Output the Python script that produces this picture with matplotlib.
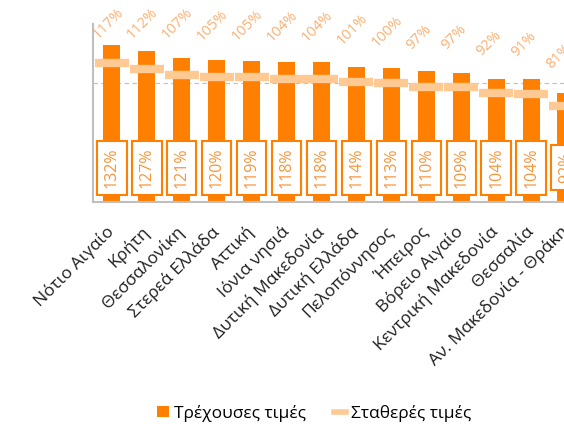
#!/usr/bin/env python3
"""Regional index chart: current vs constant prices (cropped view)."""
import matplotlib

matplotlib.use("Agg")

import matplotlib.pyplot as plt  # noqa: E402
import matplotlib.transforms as mtransforms  # noqa: E402
import numpy as np  # noqa: E402
from matplotlib.lines import Line2D  # noqa: E402
from matplotlib.patches import Patch  # noqa: E402

plt.rcParams["font.family"] = ["Open Sans", "DejaVu Sans"]

REGIONS = [
    "Νότιο Αιγαίο", "Κρήτη", "Θεσσαλονίκη", "Στερεά Ελλάδα", "Αττική",
    "Ιόνια νησιά", "Δυτική Μακεδονία", "Δυτική Ελλάδα", "Πελοπόννησος",
    "Ήπειρος", "Βόρειο Αιγαίο", "Κεντρική Μακεδονία", "Θεσσαλία",
    "Αν. Μακεδονία - Θράκη",
]
CURRENT = [132, 127, 121, 120, 119, 118, 118, 114, 113, 110, 109, 104, 104, 92]
CONSTANT = [117, 112, 107, 105, 105, 104, 104, 101, 100, 97, 97, 92, 91, 81]

ORANGE = "#FF8000"
BOX_TEXT = "#F7963A"
TOP_TEXT = "#F9B072"
PEACH = "#FFC994"
SPINE = "#BFBFBF"


def main() -> int:
    fig = plt.figure(figsize=(5.64, 4.24), dpi=100)
    # axes deliberately runs past the right edge: the reference is cropped there
    ax = fig.add_axes([93 / 564, 222 / 424, 494 / 564, 178 / 424])
    x = np.arange(len(REGIONS))

    ax.bar(x, CURRENT, width=0.49, color=ORANGE, zorder=2)
    ax.plot(x, CONSTANT, linestyle="none", marker="_", markersize=24,
            markeredgewidth=6, color=PEACH, zorder=3)

    for xi, cur, const in zip(x, CURRENT, CONSTANT):
        ax.text(xi, 29, f"{cur}%", rotation=90, ha="center", va="center",
                fontsize=11.5, color=BOX_TEXT, zorder=4,
                bbox=dict(boxstyle="square,pad=0.42", facecolor="white",
                          edgecolor=ORANGE, linewidth=1.5))
        ax.text(xi - 0.42, min(const + 31, 137), f"{const}%", rotation=45,
                rotation_mode="anchor", ha="left", va="baseline",
                fontsize=10.5, color=TOP_TEXT, clip_on=False)

    ax.set_xlim(-0.54, 13.6)
    ax.set_ylim(0, 150)
    ax.set_yticks([100])
    ax.set_yticklabels([])
    ax.tick_params(axis="y", length=0)
    ax.tick_params(axis="x", length=0, pad=15.5)
    ax.yaxis.grid(True, linestyle=(0, (4, 3)), color="#BFBFBF", linewidth=0.8, zorder=0)
    ax.set_axisbelow(True)
    ax.set_xticks(x)
    ax.set_xticklabels(REGIONS, rotation=45, ha="right", va="top",
                       fontsize=12.5, color="#1f1f1f")
    shift = mtransforms.ScaledTranslation(6 / 100, 0, fig.dpi_scale_trans)
    for label in ax.get_xticklabels():
        label.set_transform(label.get_transform() + shift)
    for side in ("top", "right"):
        ax.spines[side].set_visible(False)
    for side in ("left", "bottom"):
        ax.spines[side].set_color(SPINE)
        ax.spines[side].set_linewidth(1.5)

    handles = [Patch(facecolor=ORANGE, edgecolor="none"),
               Line2D([], [], color=PEACH, linewidth=4)]
    fig.legend(handles, ["Τρέχουσες τιμές", "Σταθερές τιμές"],
               loc="center", bbox_to_anchor=(314 / 564, 1 - 413 / 424),
               ncol=2, frameon=False, fontsize=12.5, handlelength=0.7,
               handleheight=0.65, handletextpad=0.3, columnspacing=1.6)

    fig.savefig("out.png", dpi=100)
    plt.close(fig)
    return 0


if __name__ == "__main__":
    raise SystemExit(main())
